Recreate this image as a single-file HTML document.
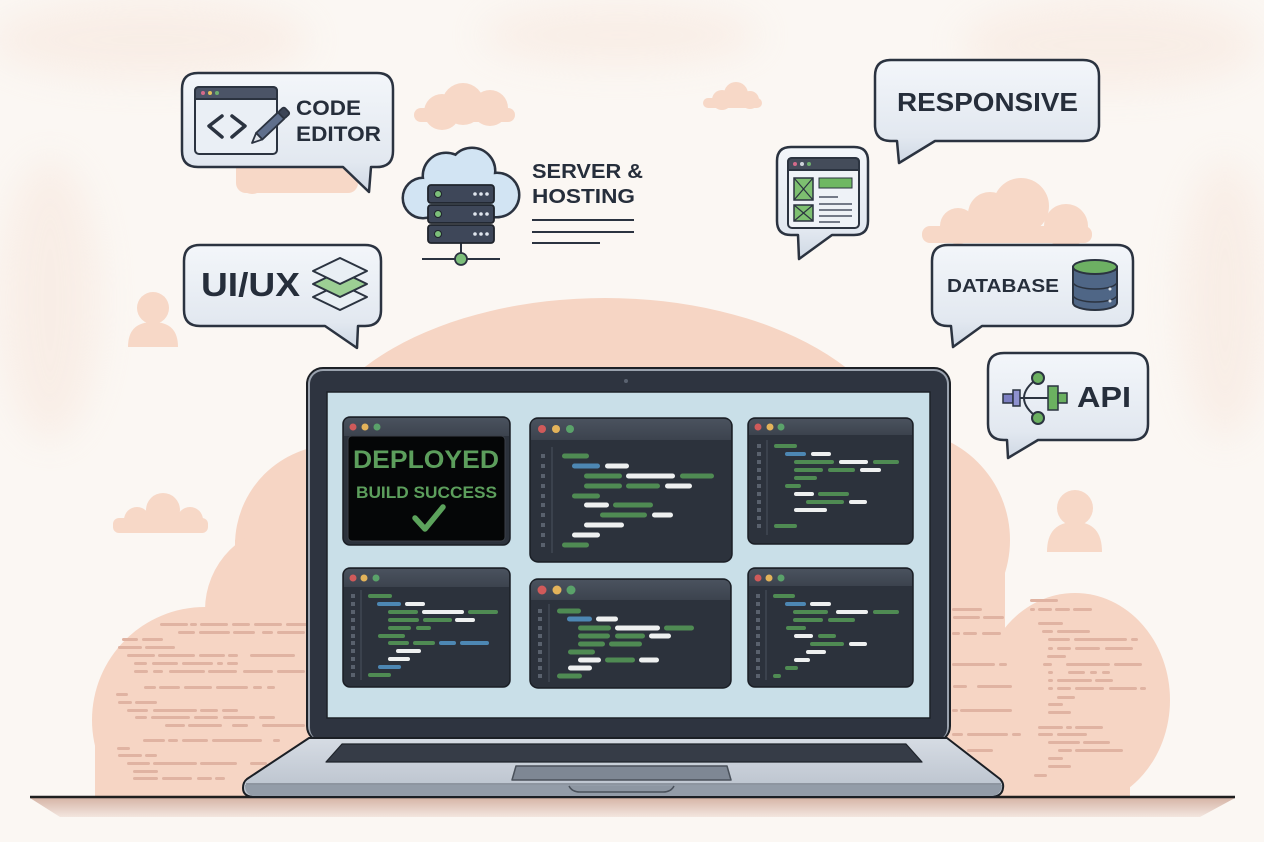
<!DOCTYPE html>
<html><head><meta charset="utf-8"><style>
html,body{margin:0;padding:0;background:#fbf7f3;}
svg{display:block}
.g{fill:#4f8b53}.w{fill:#eef0f0}.b{fill:#4d87b3}.q{fill:#59616d}
.t{font-family:"Liberation Sans",Arial,sans-serif;font-weight:bold;fill:#262e3b}
.d{fill:#e0b3a2}
</style></head><body>
<svg width="1264" height="842" viewBox="0 0 1264 842" xmlns="http://www.w3.org/2000/svg">
<defs>
<linearGradient id="bub" x1="0" y1="0" x2="0" y2="1"><stop offset="0" stop-color="#f3f6fa"/><stop offset="0.75" stop-color="#e2e8f0"/><stop offset="1" stop-color="#cfd8e4"/></linearGradient>
<linearGradient id="base" x1="0" y1="0" x2="0" y2="1"><stop offset="0" stop-color="#d6dce4"/><stop offset="1" stop-color="#b8c0cb"/></linearGradient>
<linearGradient id="shadow" x1="0" y1="0" x2="0" y2="1"><stop offset="0" stop-color="#d6b5a7"/><stop offset="1" stop-color="#f3e6df"/></linearGradient>
<linearGradient id="tb" x1="0" y1="0" x2="0" y2="1"><stop offset="0" stop-color="#4a525e"/><stop offset="1" stop-color="#3c434e"/></linearGradient>
<filter id="blur" x="-50%" y="-50%" width="200%" height="200%"><feGaussianBlur stdDeviation="18"/></filter>
<clipPath id="above"><rect x="0" y="0" width="1264" height="797"/></clipPath>
</defs>
<rect width="1264" height="842" fill="#fbf7f3"/>
<!-- faint haze -->
<g filter="url(#blur)" fill="#f6e3d8" opacity="0.45">
<ellipse cx="150" cy="40" rx="160" ry="40"/>
<ellipse cx="620" cy="35" rx="140" ry="30"/>
<ellipse cx="1110" cy="45" rx="150" ry="45"/>
<ellipse cx="50" cy="300" rx="50" ry="140"/>
<ellipse cx="1225" cy="300" rx="45" ry="140"/>
</g>
<!-- big cloud -->
<g fill="#f6d5c4" clip-path="url(#above)">
<ellipse cx="605" cy="470" rx="300" ry="172"/>
<circle cx="335" cy="545" r="100"/>
<circle cx="290" cy="610" r="85"/>
<circle cx="205" cy="720" r="113"/>
<rect x="95" y="715" width="120" height="82"/>
<circle cx="900" cy="540" r="110"/>
<ellipse cx="1075" cy="700" rx="95" ry="107"/>
<rect x="1000" y="700" width="130" height="97"/>
<rect x="235" y="540" width="770" height="257"/>
</g>
<!-- small clouds & persons -->
<g fill="#f7d8c7">
<circle cx="442" cy="112" r="18"/><circle cx="463" cy="104" r="21"/><circle cx="490" cy="108" r="18"/><rect x="414" y="108" width="101" height="14" rx="7"/>
<circle cx="722" cy="100" r="10"/><circle cx="736" cy="94" r="12"/><circle cx="750" cy="100" r="9"/><rect x="703" y="98" width="59" height="10" rx="5"/>
<circle cx="958" cy="226" r="18"/><circle cx="990" cy="214" r="22"/><circle cx="1021" cy="206" r="28"/><circle cx="1066" cy="226" r="22"/><rect x="922" y="226" width="170" height="17" rx="8"/>
<circle cx="252" cy="180" r="14"/><rect x="236" y="158" width="122" height="35" rx="10"/>
<circle cx="137" cy="520" r="13"/><circle cx="163" cy="510" r="17"/><circle cx="190" cy="520" r="13"/><rect x="113" y="518" width="95" height="15" rx="6"/>
<circle cx="153" cy="308" r="16"/><path d="M128,347 Q128,322 153,322 Q178,322 178,347 Z"/>
<circle cx="1075" cy="508" r="18"/><path d="M1047,552 Q1047,522 1075,522 Q1102,522 1102,552 Z"/>
</g>
<!-- background code dashes left -->
<g class="d">
<rect x="160" y="623" width="28" height="3" rx="1.5"/><rect x="190" y="623" width="7" height="3" rx="1.5"/><rect x="200" y="623" width="28" height="3" rx="1.5"/><rect x="232" y="623" width="18" height="3" rx="1.5"/><rect x="254" y="623" width="28" height="3" rx="1.5"/><rect x="286" y="623" width="21" height="3" rx="1.5"/>
<rect x="178" y="631" width="17" height="3" rx="1.5"/><rect x="199" y="631" width="31" height="3" rx="1.5"/><rect x="233" y="631" width="22" height="3" rx="1.5"/><rect x="262" y="631" width="11" height="3" rx="1.5"/><rect x="277" y="631" width="28" height="3" rx="1.5"/>
<rect x="122" y="638" width="16" height="3" rx="1.5"/><rect x="142" y="638" width="21" height="3" rx="1.5"/>
<rect x="118" y="646" width="24" height="3" rx="1.5"/><rect x="145" y="646" width="30" height="3" rx="1.5"/>
<rect x="127" y="654" width="28" height="3" rx="1.5"/><rect x="158" y="654" width="37" height="3" rx="1.5"/><rect x="199" y="654" width="26" height="3" rx="1.5"/><rect x="228" y="654" width="10" height="3" rx="1.5"/><rect x="250" y="654" width="45" height="3" rx="1.5"/>
<rect x="134" y="662" width="13" height="3" rx="1.5"/><rect x="152" y="662" width="26" height="3" rx="1.5"/><rect x="182" y="662" width="31" height="3" rx="1.5"/><rect x="217" y="662" width="6" height="3" rx="1.5"/><rect x="227" y="662" width="11" height="3" rx="1.5"/>
<rect x="134" y="670" width="14" height="3" rx="1.5"/><rect x="153" y="670" width="10" height="3" rx="1.5"/><rect x="169" y="670" width="36" height="3" rx="1.5"/><rect x="208" y="670" width="29" height="3" rx="1.5"/><rect x="243" y="670" width="30" height="3" rx="1.5"/><rect x="277" y="670" width="28" height="3" rx="1.5"/>
<rect x="144" y="686" width="12" height="3" rx="1.5"/><rect x="159" y="686" width="21" height="3" rx="1.5"/><rect x="184" y="686" width="28" height="3" rx="1.5"/><rect x="216" y="686" width="32" height="3" rx="1.5"/><rect x="253" y="686" width="9" height="3" rx="1.5"/><rect x="267" y="686" width="8" height="3" rx="1.5"/>
<rect x="116" y="693" width="12" height="3" rx="1.5"/>
<rect x="118" y="701" width="14" height="3" rx="1.5"/><rect x="135" y="701" width="22" height="3" rx="1.5"/>
<rect x="127" y="709" width="21" height="3" rx="1.5"/><rect x="153" y="709" width="44" height="3" rx="1.5"/><rect x="200" y="709" width="18" height="3" rx="1.5"/><rect x="222" y="709" width="16" height="3" rx="1.5"/>
<rect x="135" y="716" width="12" height="3" rx="1.5"/><rect x="151" y="716" width="39" height="3" rx="1.5"/><rect x="194" y="716" width="24" height="3" rx="1.5"/><rect x="223" y="716" width="32" height="3" rx="1.5"/><rect x="259" y="716" width="16" height="3" rx="1.5"/>
<rect x="165" y="724" width="20" height="3" rx="1.5"/><rect x="188" y="724" width="34" height="3" rx="1.5"/><rect x="232" y="724" width="16" height="3" rx="1.5"/><rect x="262" y="724" width="43" height="3" rx="1.5"/>
<rect x="143" y="739" width="22" height="3" rx="1.5"/><rect x="168" y="739" width="10" height="3" rx="1.5"/><rect x="182" y="739" width="26" height="3" rx="1.5"/><rect x="212" y="739" width="50" height="3" rx="1.5"/><rect x="273" y="739" width="7" height="3" rx="1.5"/>
<rect x="117" y="747" width="13" height="3" rx="1.5"/>
<rect x="118" y="754" width="24" height="3" rx="1.5"/><rect x="145" y="754" width="12" height="3" rx="1.5"/>
<rect x="127" y="762" width="23" height="3" rx="1.5"/><rect x="153" y="762" width="44" height="3" rx="1.5"/><rect x="200" y="762" width="37" height="3" rx="1.5"/><rect x="250" y="762" width="17" height="3" rx="1.5"/>
<rect x="133" y="770" width="25" height="3" rx="1.5"/>
<rect x="133" y="777" width="25" height="3" rx="1.5"/><rect x="162" y="777" width="30" height="3" rx="1.5"/><rect x="197" y="777" width="15" height="3" rx="1.5"/><rect x="215" y="777" width="10" height="3" rx="1.5"/>
</g>
<!-- background code dashes right -->
<g class="d">
<rect x="952" y="608" width="30" height="3" rx="1.5"/><rect x="953" y="616" width="27" height="3" rx="1.5"/><rect x="983" y="616" width="21" height="3" rx="1.5"/>
<rect x="952" y="632" width="8" height="3" rx="1.5"/><rect x="963" y="632" width="14" height="3" rx="1.5"/><rect x="982" y="632" width="19" height="3" rx="1.5"/>
<rect x="952" y="663" width="43" height="3" rx="1.5"/><rect x="999" y="663" width="8" height="3" rx="1.5"/>
<rect x="953" y="685" width="14" height="3" rx="1.5"/><rect x="977" y="685" width="35" height="3" rx="1.5"/>
<rect x="952" y="709" width="6" height="3" rx="1.5"/><rect x="960" y="709" width="52" height="3" rx="1.5"/>
<rect x="952" y="733" width="11" height="3" rx="1.5"/><rect x="967" y="733" width="41" height="3" rx="1.5"/><rect x="1012" y="733" width="9" height="3" rx="1.5"/>
<rect x="967" y="749" width="26" height="3" rx="1.5"/>
<rect x="1030" y="599" width="28" height="3" rx="1.5"/>
<rect x="1030" y="608" width="5" height="3" rx="1.5"/><rect x="1038" y="608" width="14" height="3" rx="1.5"/><rect x="1055" y="608" width="15" height="3" rx="1.5"/><rect x="1073" y="608" width="19" height="3" rx="1.5"/>
<rect x="1038" y="622" width="25" height="3" rx="1.5"/>
<rect x="1042" y="630" width="11" height="3" rx="1.5"/><rect x="1057" y="630" width="33" height="3" rx="1.5"/>
<rect x="1048" y="638" width="22" height="3" rx="1.5"/><rect x="1074" y="638" width="53" height="3" rx="1.5"/><rect x="1131" y="638" width="7" height="3" rx="1.5"/>
<rect x="1048" y="647" width="5" height="3" rx="1.5"/><rect x="1057" y="647" width="14" height="3" rx="1.5"/><rect x="1075" y="647" width="25" height="3" rx="1.5"/><rect x="1105" y="647" width="28" height="3" rx="1.5"/>
<rect x="1047" y="655" width="19" height="3" rx="1.5"/>
<rect x="1043" y="663" width="9" height="3" rx="1.5"/><rect x="1066" y="663" width="44" height="3" rx="1.5"/><rect x="1114" y="663" width="28" height="3" rx="1.5"/>
<rect x="1048" y="671" width="5" height="3" rx="1.5"/><rect x="1068" y="671" width="17" height="3" rx="1.5"/><rect x="1090" y="671" width="7" height="3" rx="1.5"/><rect x="1102" y="671" width="8" height="3" rx="1.5"/>
<rect x="1048" y="679" width="5" height="3" rx="1.5"/><rect x="1057" y="679" width="35" height="3" rx="1.5"/><rect x="1095" y="679" width="18" height="3" rx="1.5"/>
<rect x="1048" y="687" width="5" height="3" rx="1.5"/><rect x="1057" y="687" width="14" height="3" rx="1.5"/><rect x="1075" y="687" width="29" height="3" rx="1.5"/><rect x="1109" y="687" width="28" height="3" rx="1.5"/><rect x="1140" y="687" width="6" height="3" rx="1.5"/>
<rect x="1057" y="696" width="18" height="3" rx="1.5"/>
<rect x="1048" y="703" width="15" height="3" rx="1.5"/><rect x="1048" y="711" width="23" height="3" rx="1.5"/>
<rect x="1038" y="726" width="25" height="3" rx="1.5"/><rect x="1066" y="726" width="6" height="3" rx="1.5"/><rect x="1075" y="726" width="28" height="3" rx="1.5"/>
<rect x="1038" y="733" width="15" height="3" rx="1.5"/><rect x="1057" y="733" width="30" height="3" rx="1.5"/>
<rect x="1048" y="741" width="32" height="3" rx="1.5"/><rect x="1083" y="741" width="27" height="3" rx="1.5"/>
<rect x="1058" y="749" width="14" height="3" rx="1.5"/><rect x="1075" y="749" width="48" height="3" rx="1.5"/>
<rect x="1048" y="757" width="15" height="3" rx="1.5"/><rect x="1048" y="765" width="23" height="3" rx="1.5"/><rect x="1034" y="774" width="13" height="3" rx="1.5"/>
</g>

<!-- ground -->
<path d="M30,798 L1235,798 L1200,817 L60,817 Z" fill="url(#shadow)"/>
<line x1="30" y1="797" x2="1235" y2="797" stroke="#1f1f1f" stroke-width="2.5"/>

<!-- bubbles -->
<g fill="url(#bub)" stroke="#2b3340" stroke-width="2.5" stroke-linejoin="round">
<path d="M198,73 H377 Q393,73 393,89 V151 Q393,167 377,167 H371 L369,192 L343,167 H198 Q182,167 182,151 V89 Q182,73 198,73 Z"/>
<path d="M200,245 H365 Q381,245 381,261 V310 Q381,326 365,326 H358 L357,348 L325,326 H200 Q184,326 184,310 V261 Q184,245 200,245 Z"/>
<path d="M891,60 H1083 Q1099,60 1099,76 V125 Q1099,141 1083,141 H935 L899,163 L897,141 H891 Q875,141 875,125 V76 Q875,60 891,60 Z"/>
<path d="M791,147 H854 Q868,147 868,161 V221 Q868,235 854,235 H832 L799,259 L798,235 H791 Q777,235 777,221 V161 Q777,147 791,147 Z"/>
<path d="M948,245 H1117 Q1133,245 1133,261 V310 Q1133,326 1117,326 H982 L953,347 L951,326 H948 Q932,326 932,310 V261 Q932,245 948,245 Z"/>
<path d="M1004,353 H1132 Q1148,353 1148,369 V424 Q1148,440 1132,440 H1038 L1008,458 L1007,440 H1004 Q988,440 988,424 V369 Q988,353 1004,353 Z"/>
</g>

<!-- code editor icon -->
<rect x="195" y="87" width="82" height="67" rx="4" fill="#eaeff5" stroke="#2b3340" stroke-width="2"/>
<path d="M199,87 H273 Q277,87 277,91 V99 H195 V91 Q195,87 199,87 Z" fill="#4b5467" stroke="#2b3340" stroke-width="2"/>
<circle cx="203" cy="93" r="2" fill="#d46a8a"/><circle cx="210" cy="93" r="2" fill="#e5c15a"/><circle cx="217" cy="93" r="2" fill="#6fb06f"/>
<polyline points="222,116 209,126 222,137" fill="none" stroke="#2b3340" stroke-width="3.5" stroke-linecap="round" stroke-linejoin="round"/>
<polyline points="232,116 245,126 232,137" fill="none" stroke="#2b3340" stroke-width="3.5" stroke-linecap="round" stroke-linejoin="round"/>
<g transform="translate(252,143) rotate(-43.3)" stroke="#2b3340" stroke-width="1.8" stroke-linejoin="round">
<polygon points="0,0 10,-4.5 10,4.5" fill="#dfe4ea"/>
<rect x="10" y="-4.5" width="30" height="9" fill="#5f6f8c"/>
<rect x="40" y="-4.5" width="8" height="9" rx="2" fill="#3b4456"/>
</g>
<text class="t" x="296" y="115" font-size="21" textLength="65" lengthAdjust="spacingAndGlyphs">CODE</text>
<text class="t" x="296" y="141" font-size="21" textLength="85" lengthAdjust="spacingAndGlyphs">EDITOR</text>

<!-- UI/UX -->
<text class="t" x="201" y="296" font-size="33" textLength="99" lengthAdjust="spacingAndGlyphs">UI/UX</text>
<g stroke="#2b3340" stroke-width="2" stroke-linejoin="round">
<polygon points="313,297 340,284 367,297 340,310" fill="#e9eff4"/>
<polygon points="313,284 340,271 367,284 340,297" fill="#9ccf94"/>
<polygon points="313,271 340,258 367,271 340,284" fill="#e9eff4"/>
</g>

<!-- server -->
<g fill="none" stroke="#2b3340" stroke-width="5">
<circle cx="423" cy="198" r="19"/><circle cx="446" cy="176" r="22"/><circle cx="472" cy="171" r="22"/><circle cx="497" cy="195" r="21"/><rect x="423" y="190" width="74" height="26"/>
</g>
<g fill="#d2e4f3">
<circle cx="423" cy="198" r="19"/><circle cx="446" cy="176" r="22"/><circle cx="472" cy="171" r="22"/><circle cx="497" cy="195" r="21"/><rect x="423" y="190" width="74" height="26"/>
</g>
<line x1="461" y1="243" x2="461" y2="259" stroke="#2b3340" stroke-width="2"/>
<line x1="422" y1="259" x2="500" y2="259" stroke="#2b3340" stroke-width="2"/>
<circle cx="461" cy="259" r="6" fill="#7cbf7a" stroke="#2b3340" stroke-width="1.8"/>
<g stroke="#1f242c" stroke-width="1.8">
<rect x="428" y="185" width="66" height="18" rx="3" fill="#3e4759"/>
<rect x="428" y="205" width="66" height="18" rx="3" fill="#3e4759"/>
<rect x="428" y="225" width="66" height="18" rx="3" fill="#3e4759"/>
</g>
<g fill="#7cbf7a" stroke="#1f242c" stroke-width="1"><circle cx="438" cy="194" r="3.5"/><circle cx="438" cy="214" r="3.5"/><circle cx="438" cy="234" r="3.5"/></g>
<g fill="#e0e6ee"><circle cx="475" cy="194" r="1.8"/><circle cx="481" cy="194" r="1.8"/><circle cx="487" cy="194" r="1.8"/><circle cx="475" cy="214" r="1.8"/><circle cx="481" cy="214" r="1.8"/><circle cx="487" cy="214" r="1.8"/><circle cx="475" cy="234" r="1.8"/><circle cx="481" cy="234" r="1.8"/><circle cx="487" cy="234" r="1.8"/></g>
<text class="t" x="532" y="178" font-size="20" textLength="111" lengthAdjust="spacingAndGlyphs">SERVER &amp;</text>
<text class="t" x="532" y="203" font-size="20" textLength="103" lengthAdjust="spacingAndGlyphs">HOSTING</text>
<g stroke="#2b3340" stroke-width="2"><line x1="532" y1="220" x2="634" y2="220"/><line x1="532" y1="232" x2="634" y2="232"/><line x1="532" y1="243" x2="600" y2="243"/></g>

<!-- RESPONSIVE -->
<text class="t" x="897" y="111" font-size="26" textLength="181" lengthAdjust="spacingAndGlyphs">RESPONSIVE</text>

<!-- wireframe -->
<rect x="788" y="158" width="71" height="70" rx="4" fill="#eef2f7" stroke="#2b3340" stroke-width="2"/>
<path d="M792,158 H855 Q859,158 859,162 V170 H788 V162 Q788,158 792,158 Z" fill="#444c5a" stroke="#2b3340" stroke-width="2"/>
<circle cx="795" cy="164" r="2" fill="#d46a8a"/><circle cx="802" cy="164" r="2" fill="#cfd4da"/><circle cx="809" cy="164" r="2" fill="#6fb06f"/>
<g fill="#7dc070" stroke="#2b3340" stroke-width="1.5">
<rect x="794" y="178" width="19" height="22"/><rect x="794" y="205" width="19" height="16"/>
</g>
<g stroke="#2b3340" stroke-width="1.2"><line x1="794" y1="178" x2="813" y2="200"/><line x1="813" y1="178" x2="794" y2="200"/><line x1="794" y1="205" x2="813" y2="221"/><line x1="813" y1="205" x2="794" y2="221"/></g>
<rect x="819" y="178" width="33" height="10" fill="#6fb863" stroke="#2b3340" stroke-width="1"/>
<g stroke="#4a5263" stroke-width="1.5"><line x1="819" y1="197" x2="838" y2="197"/><line x1="819" y1="204" x2="852" y2="204"/><line x1="819" y1="210" x2="852" y2="210"/><line x1="819" y1="216" x2="852" y2="216"/><line x1="819" y1="222" x2="840" y2="222"/></g>

<!-- DATABASE -->
<text class="t" x="947" y="292" font-size="18" textLength="112" lengthAdjust="spacingAndGlyphs">DATABASE</text>
<path d="M1073,267 V303 A22,7 0 0 0 1117,303 V267 Z" fill="#4f6686" stroke="#2b3340" stroke-width="2"/>
<path d="M1073,282 A22,7 0 0 0 1117,282 M1073,295 A22,7 0 0 0 1117,295" fill="none" stroke="#2b3340" stroke-width="1.5"/>
<ellipse cx="1095" cy="267" rx="22" ry="7" fill="#6db063" stroke="#2b3340" stroke-width="2"/>
<circle cx="1110" cy="289" r="1.5" fill="#dde3ea"/><circle cx="1110" cy="301" r="1.5" fill="#dde3ea"/>

<!-- API -->
<text class="t" x="1077" y="407" font-size="29" textLength="54" lengthAdjust="spacingAndGlyphs">API</text>
<line x1="1018" y1="398" x2="1050" y2="398" stroke="#2b3340" stroke-width="2"/>
<path d="M1038,378 Q1010,398 1038,418" fill="none" stroke="#2b3340" stroke-width="2"/>
<g stroke="#2b3340" stroke-width="1.5">
<rect x="1003" y="394" width="10" height="9" fill="#7c7fc2"/><rect x="1013" y="390" width="7" height="16" fill="#8f92cf"/>
<rect x="1048" y="386" width="10" height="24" fill="#6bb060"/><rect x="1058" y="393" width="9" height="10" fill="#6bb060"/>
</g>
<circle cx="1038" cy="378" r="6" fill="#6bb060" stroke="#2b3340" stroke-width="2"/>
<circle cx="1038" cy="418" r="6" fill="#6bb060" stroke="#2b3340" stroke-width="2"/>

<!-- laptop lid -->
<rect x="307" y="368" width="643" height="374" rx="16" fill="#9aa2ae" stroke="#1c2026" stroke-width="2"/>
<rect x="310" y="371" width="637" height="370" rx="13" fill="#2e3440"/>
<circle cx="626" cy="381" r="2" fill="#5a6270"/>
<rect x="327" y="392" width="603" height="326" fill="#c9dfe8" stroke="#1d2229" stroke-width="1.5"/>

<!-- base -->
<path d="M309,738 L947,738 L1000,779 Q1004,783 1003,788 Q1002,797 990,797 L255,797 Q243,797 243,788 Q243,782 247,779 Z" fill="url(#base)" stroke="#1b1f25" stroke-width="2" stroke-linejoin="round"/>
<path d="M245,785 H1002 Q1001,796 990,796 H256 Q245,796 245,785 Z" fill="#939ca8"/>
<line x1="246" y1="784" x2="1001" y2="784" stroke="#5c6470" stroke-width="1"/>
<polygon points="342,744 906,744 922,762 326,762" fill="#363c47" stroke="#1f242b" stroke-width="1.2" stroke-linejoin="round"/>
<polygon points="516,766 727,766 731,780 512,780" fill="#7e8794" stroke="#4a515b" stroke-width="1.5" stroke-linejoin="round"/>
<path d="M569,786 Q572,792 580,792 H663 Q671,792 674,786" fill="#8d96a2" stroke="#4a515b" stroke-width="1.5"/>

<!-- windows -->
<g stroke="#1a1e25" stroke-width="1.5">
<rect x="343" y="417" width="167" height="128" rx="7" fill="#2c323c"/>
<rect x="530" y="418" width="202" height="144" rx="8" fill="#2c323c"/>
<rect x="748" y="418" width="165" height="126" rx="7" fill="#2c323c"/>
<rect x="343" y="568" width="167" height="119" rx="7" fill="#2c323c"/>
<rect x="530" y="579" width="201" height="109" rx="8" fill="#2c323c"/>
<rect x="748" y="568" width="165" height="119" rx="7" fill="#2c323c"/>
</g>
<g fill="url(#tb)">
<path d="M350,418 H503 Q509,418 509,424 V436 H344 V424 Q344,418 350,418 Z"/>
<path d="M538,419 H724 Q731,419 731,426 V440 H531 V426 Q531,419 538,419 Z"/>
<path d="M755,419 H906 Q912,419 912,425 V435 H749 V425 Q749,419 755,419 Z"/>
<path d="M350,569 H503 Q509,569 509,575 V587 H344 V575 Q344,569 350,569 Z"/>
<path d="M538,580 H723 Q730,580 730,587 V600 H531 V587 Q531,580 538,580 Z"/>
<path d="M755,569 H906 Q912,569 912,575 V586 H749 V575 Q749,569 755,569 Z"/>
</g>
<g>
<circle cx="353" cy="427" r="3.5" fill="#d05a5a"/><circle cx="365" cy="427" r="3.5" fill="#e3b35a"/><circle cx="377" cy="427" r="3.5" fill="#5aa26a"/>
<circle cx="542" cy="429" r="4" fill="#d05a5a"/><circle cx="556" cy="429" r="4" fill="#e3b35a"/><circle cx="570" cy="429" r="4" fill="#5aa26a"/>
<circle cx="758" cy="427" r="3.5" fill="#d05a5a"/><circle cx="770" cy="427" r="3.5" fill="#e3b35a"/><circle cx="781" cy="427" r="3.5" fill="#5aa26a"/>
<circle cx="353" cy="578" r="3.5" fill="#d05a5a"/><circle cx="364" cy="578" r="3.5" fill="#e3b35a"/><circle cx="376" cy="578" r="3.5" fill="#5aa26a"/>
<circle cx="542" cy="590" r="4.5" fill="#d05a5a"/><circle cx="557" cy="590" r="4.5" fill="#e3b35a"/><circle cx="571" cy="590" r="4.5" fill="#5aa26a"/>
<circle cx="758" cy="578" r="3.5" fill="#d05a5a"/><circle cx="769" cy="578" r="3.5" fill="#e3b35a"/><circle cx="781" cy="578" r="3.5" fill="#5aa26a"/>
</g>
<!-- W1 deployed -->
<rect x="348" y="436" width="157" height="105" rx="4" fill="#050607" stroke="#3a3f47" stroke-width="1"/>
<text x="353" y="468" font-family="Liberation Sans,Arial,sans-serif" font-weight="bold" font-size="25" fill="#5c9e5c" textLength="146" lengthAdjust="spacingAndGlyphs">DEPLOYED</text>
<text x="356" y="498" font-family="Liberation Sans,Arial,sans-serif" font-weight="bold" font-size="16.5" fill="#5c9e5c" textLength="141" lengthAdjust="spacingAndGlyphs">BUILD SUCCESS</text>
<polyline points="415,518 425,529 443,507" fill="none" stroke="#5ca35c" stroke-width="5.5" stroke-linecap="round" stroke-linejoin="round"/>

<!-- gutters -->
<g stroke="#4a525e" stroke-width="1"><line x1="552" y1="447" x2="552" y2="553"/><line x1="767" y1="440" x2="767" y2="535"/><line x1="361" y1="590" x2="361" y2="680"/><line x1="549" y1="604" x2="549" y2="682"/><line x1="766" y1="590" x2="766" y2="680"/></g>
<g class="q">
<rect x="541" y="454" width="4" height="4"/><rect x="541" y="464" width="4" height="4"/><rect x="541" y="474" width="4" height="4"/><rect x="541" y="484" width="4" height="4"/><rect x="541" y="494" width="4" height="4"/><rect x="541" y="503" width="4" height="4"/><rect x="541" y="513" width="4" height="4"/><rect x="541" y="523" width="4" height="4"/><rect x="541" y="533" width="4" height="4"/><rect x="541" y="543" width="4" height="4"/>
<rect x="757" y="444" width="4" height="4"/><rect x="757" y="452" width="4" height="4"/><rect x="757" y="460" width="4" height="4"/><rect x="757" y="468" width="4" height="4"/><rect x="757" y="476" width="4" height="4"/><rect x="757" y="484" width="4" height="4"/><rect x="757" y="492" width="4" height="4"/><rect x="757" y="500" width="4" height="4"/><rect x="757" y="508" width="4" height="4"/><rect x="757" y="516" width="4" height="4"/><rect x="757" y="524" width="4" height="4"/>
<rect x="351" y="594" width="4" height="4"/><rect x="351" y="602" width="4" height="4"/><rect x="351" y="610" width="4" height="4"/><rect x="351" y="618" width="4" height="4"/><rect x="351" y="626" width="4" height="4"/><rect x="351" y="634" width="4" height="4"/><rect x="351" y="641" width="4" height="4"/><rect x="351" y="649" width="4" height="4"/><rect x="351" y="657" width="4" height="4"/><rect x="351" y="665" width="4" height="4"/><rect x="351" y="673" width="4" height="4"/>
<rect x="538" y="609" width="4" height="4"/><rect x="538" y="617" width="4" height="4"/><rect x="538" y="626" width="4" height="4"/><rect x="538" y="634" width="4" height="4"/><rect x="538" y="642" width="4" height="4"/><rect x="538" y="650" width="4" height="4"/><rect x="538" y="658" width="4" height="4"/><rect x="538" y="666" width="4" height="4"/><rect x="538" y="674" width="4" height="4"/>
<rect x="756" y="594" width="4" height="4"/><rect x="756" y="602" width="4" height="4"/><rect x="756" y="610" width="4" height="4"/><rect x="756" y="618" width="4" height="4"/><rect x="756" y="626" width="4" height="4"/><rect x="756" y="634" width="4" height="4"/><rect x="756" y="642" width="4" height="4"/><rect x="756" y="650" width="4" height="4"/><rect x="756" y="658" width="4" height="4"/><rect x="756" y="666" width="4" height="4"/><rect x="756" y="674" width="4" height="4"/>
</g>
<!-- W2 code -->
<g>
<rect class="g" x="562" y="453.5" width="27" height="5" rx="2.5"/>
<rect class="b" x="572" y="463.5" width="28" height="5" rx="2.5"/><rect class="w" x="605" y="463.5" width="24" height="5" rx="2.5"/>
<rect class="g" x="584" y="473.5" width="38" height="5" rx="2.5"/><rect class="w" x="626" y="473.5" width="49" height="5" rx="2.5"/><rect class="g" x="680" y="473.5" width="34" height="5" rx="2.5"/>
<rect class="g" x="584" y="483.5" width="38" height="5" rx="2.5"/><rect class="g" x="626" y="483.5" width="34" height="5" rx="2.5"/><rect class="w" x="665" y="483.5" width="27" height="5" rx="2.5"/>
<rect class="g" x="572" y="493.5" width="28" height="5" rx="2.5"/>
<rect class="w" x="584" y="502.5" width="25" height="5" rx="2.5"/><rect class="g" x="613" y="502.5" width="40" height="5" rx="2.5"/>
<rect class="g" x="600" y="512.5" width="47" height="5" rx="2.5"/><rect class="w" x="652" y="512.5" width="21" height="5" rx="2.5"/>
<rect class="w" x="584" y="522.5" width="40" height="5" rx="2.5"/>
<rect class="w" x="572" y="532.5" width="28" height="5" rx="2.5"/>
<rect class="g" x="562" y="542.5" width="27" height="5" rx="2.5"/>
</g>
<!-- W3 code -->
<g>
<rect class="g" x="774" y="444" width="23" height="4" rx="2"/>
<rect class="b" x="785" y="452" width="21" height="4" rx="2"/><rect class="w" x="811" y="452" width="20" height="4" rx="2"/>
<rect class="g" x="794" y="460" width="40" height="4" rx="2"/><rect class="w" x="839" y="460" width="29" height="4" rx="2"/><rect class="g" x="873" y="460" width="26" height="4" rx="2"/>
<rect class="g" x="794" y="468" width="29" height="4" rx="2"/><rect class="g" x="828" y="468" width="27" height="4" rx="2"/><rect class="w" x="860" y="468" width="21" height="4" rx="2"/>
<rect class="g" x="794" y="476" width="23" height="4" rx="2"/>
<rect class="g" x="785" y="484" width="16" height="4" rx="2"/>
<rect class="w" x="794" y="492" width="20" height="4" rx="2"/><rect class="g" x="818" y="492" width="31" height="4" rx="2"/>
<rect class="g" x="806" y="500" width="38" height="4" rx="2"/><rect class="w" x="849" y="500" width="18" height="4" rx="2"/>
<rect class="w" x="794" y="508" width="33" height="4" rx="2"/>
<rect class="g" x="774" y="524" width="23" height="4" rx="2"/>
</g>
<!-- W4 code -->
<g>
<rect class="g" x="368" y="594" width="24" height="4" rx="2"/>
<rect class="b" x="377" y="602" width="24" height="4" rx="2"/><rect class="w" x="405" y="602" width="20" height="4" rx="2"/>
<rect class="g" x="388" y="610" width="30" height="4" rx="2"/><rect class="w" x="422" y="610" width="42" height="4" rx="2"/><rect class="g" x="468" y="610" width="30" height="4" rx="2"/>
<rect class="g" x="388" y="618" width="31" height="4" rx="2"/><rect class="g" x="423" y="618" width="29" height="4" rx="2"/><rect class="w" x="455" y="618" width="20" height="4" rx="2"/>
<rect class="g" x="388" y="626" width="23" height="4" rx="2"/><rect class="g" x="416" y="626" width="15" height="4" rx="2"/>
<rect class="g" x="378" y="634" width="27" height="4" rx="2"/>
<rect class="g" x="388" y="641" width="21" height="4" rx="2"/><rect class="g" x="413" y="641" width="22" height="4" rx="2"/><rect class="b" x="439" y="641" width="17" height="4" rx="2"/><rect class="b" x="460" y="641" width="29" height="4" rx="2"/>
<rect class="w" x="396" y="649" width="25" height="4" rx="2"/>
<rect class="w" x="388" y="657" width="22" height="4" rx="2"/>
<rect class="b" x="378" y="665" width="23" height="4" rx="2"/>
<rect class="g" x="368" y="673" width="23" height="4" rx="2"/>
</g>
<!-- W5 code -->
<g>
<rect class="g" x="557" y="608.5" width="24" height="5" rx="2.5"/>
<rect class="b" x="567" y="616.5" width="25" height="5" rx="2.5"/><rect class="w" x="596" y="616.5" width="22" height="5" rx="2.5"/>
<rect class="g" x="578" y="625.5" width="33" height="5" rx="2.5"/><rect class="w" x="615" y="625.5" width="45" height="5" rx="2.5"/><rect class="g" x="664" y="625.5" width="30" height="5" rx="2.5"/>
<rect class="g" x="578" y="633.5" width="32" height="5" rx="2.5"/><rect class="g" x="615" y="633.5" width="30" height="5" rx="2.5"/><rect class="w" x="649" y="633.5" width="22" height="5" rx="2.5"/>
<rect class="g" x="578" y="641.5" width="27" height="5" rx="2.5"/><rect class="g" x="609" y="641.5" width="33" height="5" rx="2.5"/>
<rect class="g" x="568" y="649.5" width="27" height="5" rx="2.5"/>
<rect class="w" x="578" y="657.5" width="23" height="5" rx="2.5"/><rect class="g" x="605" y="657.5" width="30" height="5" rx="2.5"/><rect class="w" x="639" y="657.5" width="20" height="5" rx="2.5"/>
<rect class="w" x="568" y="665.5" width="24" height="5" rx="2.5"/>
<rect class="g" x="557" y="673.5" width="25" height="5" rx="2.5"/>
</g>
<!-- W6 code -->
<g>
<rect class="g" x="773" y="594" width="22" height="4" rx="2"/>
<rect class="b" x="785" y="602" width="21" height="4" rx="2"/><rect class="w" x="810" y="602" width="21" height="4" rx="2"/>
<rect class="g" x="793" y="610" width="35" height="4" rx="2"/><rect class="w" x="836" y="610" width="32" height="4" rx="2"/><rect class="g" x="873" y="610" width="26" height="4" rx="2"/>
<rect class="g" x="793" y="618" width="30" height="4" rx="2"/><rect class="g" x="828" y="618" width="27" height="4" rx="2"/>
<rect class="g" x="786" y="626" width="20" height="4" rx="2"/>
<rect class="w" x="794" y="634" width="19" height="4" rx="2"/><rect class="g" x="818" y="634" width="18" height="4" rx="2"/>
<rect class="g" x="810" y="642" width="34" height="4" rx="2"/><rect class="w" x="849" y="642" width="18" height="4" rx="2"/>
<rect class="w" x="806" y="650" width="20" height="4" rx="2"/>
<rect class="w" x="794" y="658" width="16" height="4" rx="2"/>
<rect class="g" x="785" y="666" width="13" height="4" rx="2"/>
<rect class="g" x="773" y="674" width="8" height="4" rx="2"/>
</g>
</svg>
</body></html>
